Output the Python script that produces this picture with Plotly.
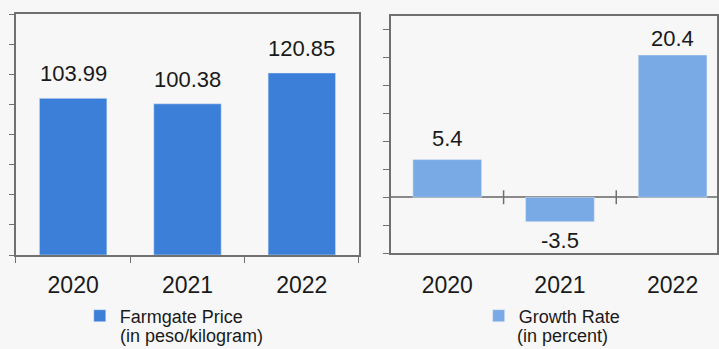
import plotly.graph_objects as go

years = ["2020", "2021", "2022"]
price = [103.99, 100.38, 120.85]
price_labels = ["103.99", "100.38", "120.85"]
growth = [5.4, -3.5, 20.4]
growth_labels = ["5.4", "-3.5", "20.4"]

FONT = "Liberation Sans, Arial, sans-serif"
BG = "#f7f7f7"
LINE = "#707070"
C1 = "#3b7fd8"
C2 = "#7aaae6"

W, H = 719, 349

def fy(px):
    return 1 - px / H

def fx(px):
    return px / W

fig = go.Figure()
fig.add_trace(go.Bar(x=years, y=price, marker_color=C1, width=0.59,
                     name="Farmgate Price", xaxis="x", yaxis="y",
                     legend="legend", hoverinfo="skip"))
fig.add_trace(go.Bar(x=years, y=growth, marker_color=C2, width=0.61,
                     name="Growth Rate", xaxis="x2", yaxis="y2",
                     legend="legend2", hoverinfo="skip"))

annotations = []
for i, (v, t) in enumerate(zip(price, price_labels)):
    annotations.append(dict(x=i, y=v, xref="x", yref="y", text=t, showarrow=False,
                            xanchor="center", yanchor="bottom", yshift=10,
                            font=dict(family=FONT, size=22, color="#1a1a1a")))
shifts = [7, -4, 2]
for i, (v, t, s) in enumerate(zip(growth, growth_labels, shifts)):
    annotations.append(dict(x=i, y=v, xref="x2", yref="y2", text=t, showarrow=False,
                            xanchor="center",
                            yanchor="bottom" if v >= 0 else "top", yshift=s,
                            font=dict(family=FONT, size=22, color="#1a1a1a")))
annotations.append(dict(x=fx(192), y=0, xref="paper", yref="paper",
                        xanchor="center", yanchor="bottom", yshift=1,
                        text="(in peso/kilogram)", showarrow=False,
                        font=dict(family=FONT, size=18, color="#1a1a1a")))
annotations.append(dict(x=fx(564), y=0, xref="paper", yref="paper",
                        xanchor="center", yanchor="bottom", yshift=1,
                        text="(in percent)", showarrow=False,
                        font=dict(family=FONT, size=18, color="#1a1a1a")))

shapes = []
for b in [0.5, 1.5]:
    shapes.append(dict(type="line", xref="x2", yref="y2", x0=b, x1=b, y0=-1.0, y1=1.0,
                       line=dict(color=LINE, width=1.5)))

fig.update_layout(
    width=W, height=H,
    margin=dict(l=0, r=0, t=0, b=0),
    paper_bgcolor=BG, plot_bgcolor=BG,
    font=dict(family=FONT, color="#1a1a1a"),
    annotations=annotations,
    shapes=shapes,
    xaxis=dict(domain=[fx(16), fx(360)], range=[-0.5, 2.5], type="category",
               showline=True, mirror=True, linecolor=LINE, linewidth=1.5,
               ticks="outside", tickson="boundaries", ticklen=6, tickcolor=LINE,
               tickfont=dict(size=23, color="#1a1a1a"), ticklabelstandoff=9,
               showgrid=False, fixedrange=True),
    yaxis=dict(domain=[fy(255), fy(14)], range=[0, 160], dtick=20,
               showline=True, mirror=True, linecolor=LINE, linewidth=1.5,
               ticks="outside", ticklen=5, tickcolor=LINE, showticklabels=False,
               showgrid=False, zeroline=False, fixedrange=True),
    xaxis2=dict(domain=[fx(392), 1], range=[-0.5, 2.394], type="category",
                anchor="y2",
                showline=True, mirror=True, linecolor=LINE, linewidth=1.5,
                ticks="", tickfont=dict(size=23, color="#1a1a1a"),
                ticklabelstandoff=11, showgrid=False, fixedrange=True),
    yaxis2=dict(domain=[fy(253), fy(16)], range=[-8, 26], dtick=4, anchor="x2",
                showline=True, mirror=True, linecolor=LINE, linewidth=1.5,
                ticks="outside", ticklen=6, tickcolor=LINE, showticklabels=False,
                showgrid=False, zeroline=True, zerolinecolor="#8a8a8a", zerolinewidth=1.5,
                fixedrange=True),
    showlegend=True,
    legend=dict(x=fx(80), y=fy(316), xanchor="left", yanchor="middle",
                bgcolor="rgba(0,0,0,0)", font=dict(size=18, color="#1a1a1a"),
                itemclick=False, itemdoubleclick=False),
    legend2=dict(x=fx(480), y=fy(316), xanchor="left", yanchor="middle",
                 bgcolor="rgba(0,0,0,0)", font=dict(size=18, color="#1a1a1a"),
                 itemclick=False, itemdoubleclick=False),
)

fig.write_html("out.html", config=dict(displayModeBar=False))
